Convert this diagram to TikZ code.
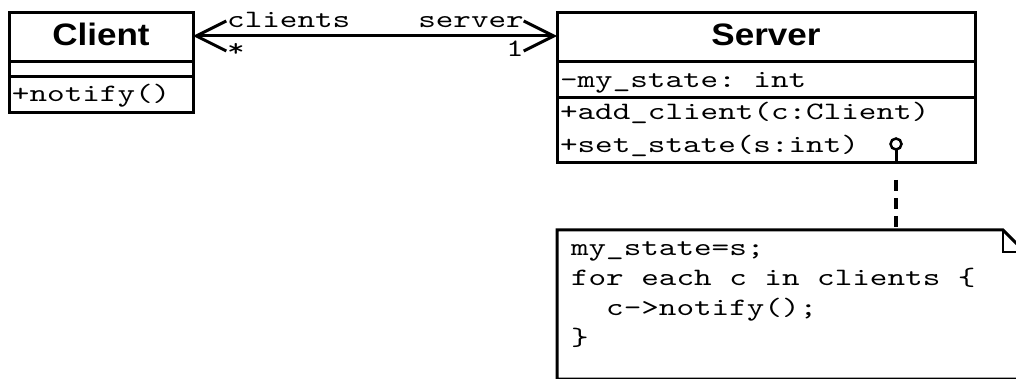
\documentclass[tikz,border=0pt]{standalone}
\usepackage{fontspec}
\newfontfamily\umlsans[FakeStretch=1.13]{Liberation Sans}
\newfontfamily\umlmono[FakeStretch=1.34]{lmmono10-regular.otf}
\newcommand\umlcode[1]{\umlmono\fontsize{25}{#1}\selectfont\frenchspacing
  \fontdimen2\font=\fontcharwd\font`x\fontdimen3\font=0pt\fontdimen4\font=0pt\relax}
\usetikzlibrary{positioning,arrows.meta}

\tikzset{
  umlhead/.style={draw, line width=3pt, outer sep=0pt, inner sep=0pt,
    minimum width=#1, text height=33pt, text depth=16pt,
    font=\umlsans\bfseries\fontsize{31}{36}\selectfont},
  umlpart/.style={draw, line width=3pt, outer sep=0pt, inner xsep=3pt, inner ysep=0pt,
    text width=#1, align=flush left, font=\umlcode{33pt},
    execute at begin node={\spaceskip=0pt\xspaceskip=0pt\relax}},
  rolelabel/.style={inner sep=0pt, font=\umlcode{30pt}},
  assoc/.style={line width=3pt, <->, >={Straight Barb[length=30pt,width=30pt]}},
  notetext/.style={outer sep=0pt, inner xsep=14pt, inner ysep=0pt, text width=440pt,
    align=flush left, text height=25pt, text depth=124pt, font=\umlcode{30pt},
    execute at begin node={\spaceskip=0pt\xspaceskip=0pt\relax}},
  notebox/.style={line width=3pt, line join=miter},
  notelink/.style={line width=4pt, dash pattern=on 11pt off 7pt},
}

\begin{document}
\begin{tikzpicture}[x=1pt, y=-1pt]
\path[use as bounding box] (0,0) rectangle (1016,379);
\clip (0,0) rectangle (1016,379);

% Client class
\node[umlhead=184pt, anchor=north west] (clienthead) at (9,13) {Client};
\node[umlpart=178pt, below=0pt of clienthead, text height=15pt, text depth=0pt] (clientattr) {};
\node[umlpart=178pt, below=0pt of clientattr, text height=25pt, text depth=11pt] (clientops) {+notify()};

% Server class
\node[umlhead=418pt, anchor=north west] (serverhead) at (557,13) {Server};
\node[umlpart=412pt, below=0pt of serverhead, text height=26pt, text depth=10pt] (serverattr) {-my\_state: int};
\node[umlpart=412pt, below=0pt of serverattr, text height=22pt, text depth=43pt] (serverops)
  {+add\_client(c:Client)\\+set\_state(s:int)};

% association with roles
\draw[assoc] ([yshift=1.5pt]clienthead.east) -- ([yshift=1.5pt]serverhead.west);
\node[rolelabel, anchor=base west] (clientsrole) at ([shift={(34,-9.5)}]clienthead.east) {clients};
\node[rolelabel, anchor=base west] (clientsmult) at ([shift={(34,19.5)}]clienthead.east) {*};
\node[rolelabel, anchor=base east] (serverrole) at ([shift={(-33,-9.5)}]serverhead.west) {server};
\node[rolelabel, anchor=base east] (servermult) at ([shift={(-33,19.5)}]serverhead.west) {1};

% note
\node[notetext, anchor=north west] (note) at (557,230)
  {my\_state=s;\\for each c in clients \{\\\mbox{\ \ }c->notify();\\\}};
\draw[notebox] (note.north west) -- ([xshift=-22pt]note.north east) -- ([yshift=-22pt]note.north east)
  -- (note.south east) -- (note.south west) -- cycle;
\draw[line width=1.5pt] ([xshift=-22pt]note.north east) |- ([yshift=-22pt]note.north east);

% lollipop from set_state to the note
\coordinate (setstate) at (896,144);
\draw[line width=2.5pt] (setstate) circle (5.5pt);
\draw[line width=3pt] ([yshift=-5.5pt]setstate) -- (setstate |- serverops.south);
\draw[notelink] ([yshift=-17pt]setstate |- serverops.south) -- (setstate |- note.north);
\end{tikzpicture}
\end{document}
